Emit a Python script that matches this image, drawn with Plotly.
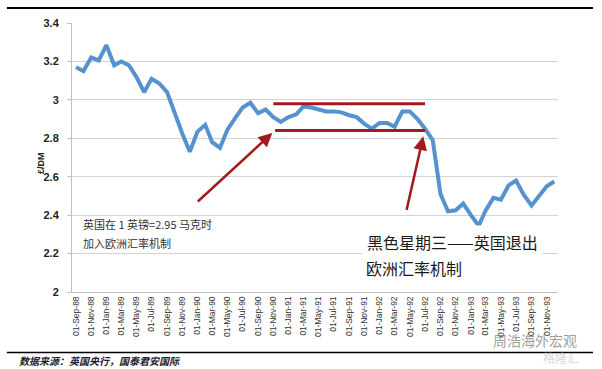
import plotly.graph_objects as go
import pandas as pd

# Monthly GBP/DEM (£/DM), Sep-1988 .. Dec-1993
months = pd.date_range("1988-09-01", periods=64, freq="MS")
rates = [3.17, 3.15, 3.22, 3.205, 3.285, 3.18, 3.20, 3.18, 3.12, 3.04,
         3.11, 3.085, 3.04, 2.93, 2.825, 2.73, 2.835, 2.87, 2.78, 2.75,
         2.845, 2.905, 2.96, 2.985, 2.93, 2.95, 2.91, 2.885, 2.91, 2.925,
         2.965, 2.96, 2.95, 2.94, 2.94, 2.935, 2.92, 2.91, 2.875, 2.85,
         2.88, 2.88, 2.86, 2.94, 2.94, 2.90, 2.85, 2.79, 2.51, 2.42,
         2.425, 2.46, 2.40, 2.345, 2.425, 2.49, 2.48, 2.555, 2.58, 2.505,
         2.45, 2.50, 2.55, 2.575]

y_ticks = [2, 2.2, 2.4, 2.6, 2.8, 3, 3.2, 3.4]
y_ticktext = ["2", "2.2", "2.4", "2.6", "2.8", "3", "3.2", "3.4"]

band_upper = 2.98
band_lower = 2.84

CJK = "Noto Sans CJK SC"
RED = "#A31A1E"

fig = go.Figure()
fig.add_trace(go.Scatter(x=months, y=rates, mode="lines",
                         line=dict(color="#5592CE", width=4),
                         hoverinfo="skip", showlegend=False))

fig.update_layout(
    width=602, height=369,
    margin=dict(l=72, r=44, t=23, b=77),
    paper_bgcolor="white", plot_bgcolor="white",
    showlegend=False,
    xaxis=dict(
        type="date",
        range=["1988-08-16", "1993-12-16"],
        tick0="1988-09-01", dtick="M2", tickformat="%d-%b-%y",
        tickangle=-90,
        tickfont=dict(family="Liberation Sans", size=8.5, color="#333333"),
        showgrid=False, showline=True, linecolor="#BFBFBF", linewidth=1,
        ticks="", zeroline=False,
    ),
    yaxis=dict(
        range=[2, 3.4],
        tickvals=y_ticks, ticktext=y_ticktext,
        tickfont=dict(family="Liberation Sans", size=11, color="#222222", weight="bold"),
        showgrid=True, gridcolor="#D4D4D4", gridwidth=1,
        showline=True, linecolor="#BFBFBF", linewidth=1,
        ticks="outside", ticklen=4, tickcolor="#BFBFBF",
        ticklabelstandoff=6,
        zeroline=False,
    ),
)

# horizontal band lines
fig.add_shape(type="line", xref="x", yref="y", x0="1990-11-01", x1="1992-07-01",
              y0=band_upper, y1=band_upper, line=dict(color=RED, width=3))
fig.add_shape(type="line", xref="x", yref="y", x0="1990-11-08", x1="1992-07-01",
              y0=band_lower, y1=band_lower, line=dict(color=RED, width=3))

# arrows
fig.add_annotation(x="1990-10-28", y=2.828, xref="x", yref="y", ax=-76, ay=70,
                   showarrow=True, arrowhead=2, arrowsize=1.1, arrowwidth=2.5,
                   arrowcolor=RED, text="", standoff=0)
fig.add_annotation(x="1992-06-24", y=2.81, xref="x", yref="y", ax=-17, ay=75,
                   showarrow=True, arrowhead=2, arrowsize=1.1, arrowwidth=2.5,
                   arrowcolor=RED, text="", standoff=0)

# y axis title
fig.add_annotation(text="<b>£/DM</b>", xref="paper", yref="paper",
                   x=-0.078, y=0.48, showarrow=False, textangle=-90,
                   font=dict(family="Liberation Sans", size=9, color="#222222"))

# small note
fig.add_annotation(text="英国在 1 英镑=2.95 马克时", xref="paper", yref="paper",
                   x=0.0179, y=0.2528, xanchor="left", yanchor="middle",
                   showarrow=False, font=dict(family=CJK, size=11, color="#333333"))
fig.add_annotation(text="加入欧洲汇率机制", xref="paper", yref="paper",
                   x=0.0179, y=0.1822, xanchor="left", yanchor="middle",
                   showarrow=False, font=dict(family=CJK, size=11, color="#333333"))

# big note
fig.add_annotation(text="黑色星期三——英国退出", xref="paper", yref="paper",
                   x=0.5967, y=0.1859, xanchor="left", yanchor="middle",
                   showarrow=False, bgcolor="white", borderpad=4,
                   font=dict(family=CJK, size=16, color="#1a1a1a"))
fig.add_annotation(text="欧洲汇率机制", xref="paper", yref="paper",
                   x=0.5967, y=0.0892, xanchor="left", yanchor="middle",
                   showarrow=False, bgcolor="white", borderpad=3,
                   font=dict(family=CJK, size=16, color="#1a1a1a"))

# top and bottom rules
fig.add_shape(type="line", xref="paper", yref="paper", x0=-0.134, x1=1.072,
              y0=1.056, y1=1.056, line=dict(color="black", width=2))
fig.add_shape(type="line", xref="paper", yref="paper", x0=-0.134, x1=1.072,
              y0=-0.2253, y1=-0.2253, line=dict(color="black", width=1.5))

# source
fig.add_annotation(text="<b><i>数据来源：英国央行，国泰君安国际</i></b>", xref="paper", yref="paper",
                   x=-0.113, y=-0.253, xanchor="left", yanchor="middle",
                   showarrow=False, font=dict(family=CJK, size=10, color="#1c1c30"))

# watermark
fig.add_annotation(text="周浩海外宏观", xref="paper", yref="paper",
                   x=0.862, y=-0.18, xanchor="left", yanchor="middle",
                   showarrow=False, opacity=0.75,
                   font=dict(family=CJK, size=14, color="#808080"))
fig.add_annotation(text="格隆汇", xref="paper", yref="paper",
                   x=0.965, y=-0.245, xanchor="left", yanchor="middle",
                   showarrow=False, opacity=0.6,
                   font=dict(family=CJK, size=12, color="#c0c0c0"))

fig.write_html("out.html", config={"displayModeBar": False},
               post_script="document.body.style.margin='0';document.body.style.padding='0';")
